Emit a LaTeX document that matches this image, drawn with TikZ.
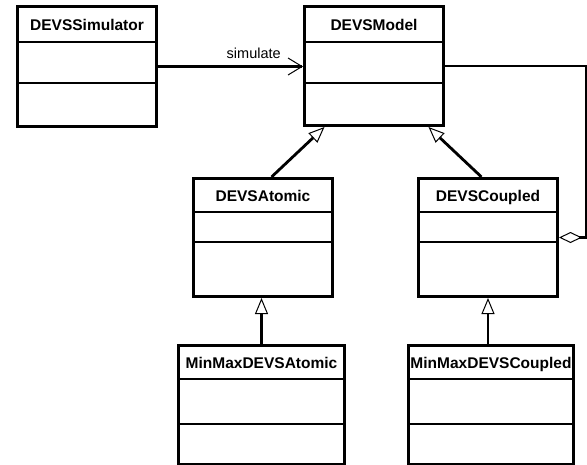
\documentclass[tikz,border=0pt]{standalone}
\usepackage{fontspec}
\setmainfont{Liberation Sans}
\usetikzlibrary{arrows.meta}

\begin{document}
\begin{tikzpicture}[x=1pt, y=-1pt,
  cls/.style={draw, line width=3pt, rectangle, inner sep=0pt, anchor=north west},
  divline/.style={line width=2.2pt},
  ctitle/.style={font=\fontsize{15.5}{18}\selectfont\bfseries, inner sep=0pt, text height=11pt, text depth=0pt},
  conn/.style={line width=2.8pt},
  gen/.style={conn, -{Triangle[open, length=16pt, width=13pt, line width=1pt]}},
  assoc/.style={conn, -{Straight Barb[length=14pt, width=17pt, line width=1pt]}},
  aggr/.style={conn, {Diamond[open, length=23pt, width=11pt, line width=1pt]}-},
]
\useasboundingbox (0,0) rectangle (587,464);

% class boxes: outer frame, two compartment dividers and the name
\newcommand{\umlclass}[8]{%
  \node[cls, minimum width=#4pt, minimum height=#5pt] (#1) at (#2,#3) {};
  \draw[divline] ([yshift=-#6pt]#1.north west) -- ([yshift=-#6pt]#1.north east);
  \draw[divline] ([yshift=-#7pt]#1.north west) -- ([yshift=-#7pt]#1.north east);
  \pgfmathsetmacro{\tmid}{#6/2+1.5}
  \node[ctitle] (#1-name) at ([yshift=-\tmid pt]#1.north) {#8};
}

\umlclass{sim}{16}{5}{139}{120}{37}{78}{DEVSSimulator}
\umlclass{model}{303}{5}{139}{119}{37}{78}{DEVSModel}
\umlclass{atomic}{192}{177}{139}{118}{35}{65}{DEVSAtomic}
\umlclass{coupled}{417}{177}{139}{118}{35}{65}{DEVSCoupled}
\umlclass{mma}{177}{344}{166}{119}{35}{80}{MinMaxDEVSAtomic}
\umlclass{mmc}{407}{344}{165}{119}{35}{80}{MinMaxDEVSCoupled}

% association
\draw[assoc] (sim.east) -- (sim.east -| model.west)
  node[pos=0.66, anchor=base, yshift=8pt, font=\fontsize{14.5}{17}\selectfont] (simlbl) {simulate};

% aggregation
\draw[aggr] (coupled.east) -- ++(27,0) |- (model.east);

% generalizations
\draw[gen] ([xshift=8.5pt]atomic.north) -- ([xshift=-49.5pt]model.south);
\draw[gen] ([xshift=-6.5pt]coupled.north) -- ([xshift=54.5pt]model.south);
\draw[gen] (mma.north) -- (mma.north |- atomic.south);
\draw[gen] (mmc.north -| coupled.south) -- (coupled.south);
\end{tikzpicture}
\end{document}
